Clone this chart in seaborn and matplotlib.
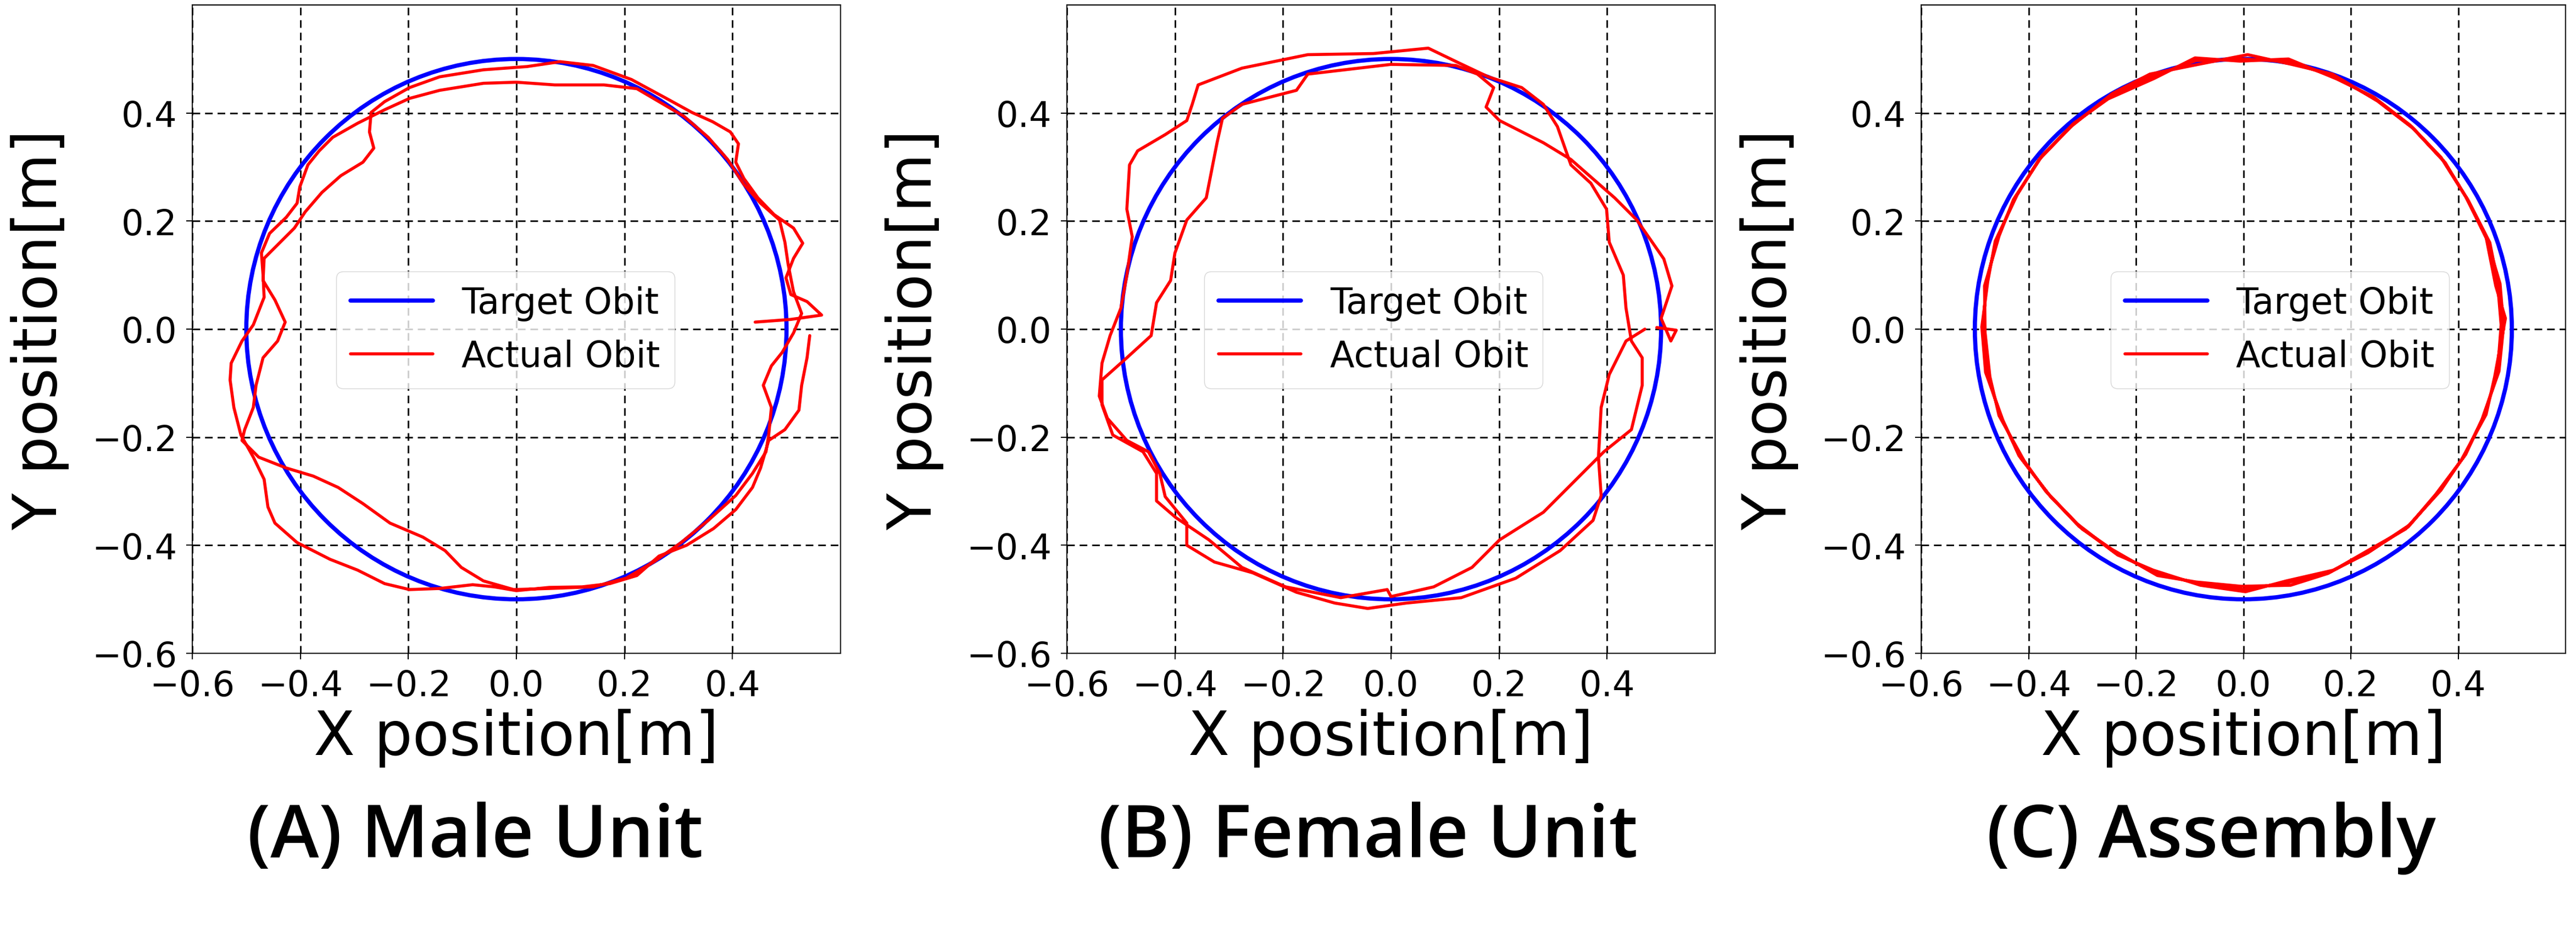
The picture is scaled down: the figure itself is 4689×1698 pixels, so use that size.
import matplotlib
matplotlib.use("Agg")
import matplotlib.pyplot as plt
from matplotlib.lines import Line2D
from matplotlib.patches import Circle
import seaborn as sns

# ---- data (metres) ----
target_radius = 0.5

male_x = [0.442, 0.508, 0.565, 0.538, 0.508, 0.499, 0.513, 0.530, 0.513, 0.477,
          0.447, 0.421, 0.406, 0.411, 0.396, 0.363, 0.325, 0.274, 0.213, 0.142,
          0.081, 0.020, -0.061, -0.142, -0.198, -0.244, -0.269, -0.272, -0.264, -0.284,
          -0.325, -0.360, -0.391, -0.411, -0.442, -0.467, -0.469, -0.447, -0.428, -0.442,
          -0.469, -0.482, -0.487, -0.503, -0.508, -0.477, -0.426, -0.376, -0.330, -0.284,
          -0.234, -0.173, -0.132, -0.102, -0.061, -0.005, 0.061, 0.142, 0.203, 0.254,
          0.305, 0.355, 0.406, 0.437, 0.462, 0.467, 0.472, 0.457, 0.472, 0.492,
          0.513,
          0.528, 0.513, 0.503, 0.497, 0.487, 0.452, 0.421, 0.391, 0.355, 0.310,
          0.264, 0.223, 0.162, 0.071, 0.000, -0.061, -0.142, -0.198, -0.244, -0.294,
          -0.340, -0.365, -0.386, -0.401, -0.406, -0.426, -0.457, -0.472, -0.469, -0.467,
          -0.487, -0.508, -0.528, -0.530, -0.523, -0.510, -0.487, -0.467, -0.460, -0.447,
          -0.406, -0.345, -0.294, -0.244, -0.198, -0.142, -0.081, -0.041, 0.000, 0.061,
          0.122, 0.173, 0.223, 0.264, 0.315, 0.365, 0.406, 0.437, 0.452, 0.467,
          0.497, 0.523, 0.528, 0.538, 0.543]
male_y = [0.013, 0.018, 0.026, 0.051, 0.064, 0.095, 0.131, 0.159, 0.187, 0.212,
          0.243, 0.279, 0.309, 0.343, 0.365, 0.384, 0.401, 0.429, 0.462, 0.488,
          0.495, 0.486, 0.480, 0.467, 0.447, 0.421, 0.401, 0.365, 0.335, 0.309,
          0.284, 0.253, 0.217, 0.187, 0.156, 0.131, 0.090, 0.054, 0.013, -0.022,
          -0.053, -0.104, -0.145, -0.186, -0.206, -0.237, -0.257, -0.272, -0.293, -0.323,
          -0.359, -0.385, -0.410, -0.441, -0.466, -0.482, -0.480, -0.477, -0.461, -0.431,
          -0.395, -0.354, -0.308, -0.267, -0.227, -0.196, -0.145, -0.104, -0.068, -0.043,
          -0.007,
          0.029, 0.069, 0.120, 0.161, 0.202, 0.233, 0.268, 0.314, 0.355, 0.394,
          0.421, 0.445, 0.452, 0.452, 0.457, 0.455, 0.442, 0.427, 0.406, 0.381,
          0.355, 0.330, 0.304, 0.263, 0.233, 0.207, 0.177, 0.141, 0.100, 0.059,
          0.008, -0.022, -0.063, -0.094, -0.145, -0.196, -0.237, -0.278, -0.329, -0.359,
          -0.395, -0.426, -0.446, -0.471, -0.482, -0.480, -0.473, -0.477, -0.484, -0.478,
          -0.477, -0.471, -0.456, -0.420, -0.400, -0.369, -0.334, -0.293, -0.257, -0.206,
          -0.186, -0.150, -0.104, -0.053, -0.012]

female_x = [0.492, 0.528, 0.518, 0.500, 0.520, 0.505, 0.455, 0.414, 0.333, 0.282,
            0.201, 0.176, 0.190, 0.160, 0.120, 0.000, -0.154, -0.175, -0.276, -0.312,
            -0.322, -0.342, -0.378, -0.400, -0.408, -0.434, -0.444, -0.489, -0.535, -0.535,
            -0.515, -0.459, -0.434, -0.434, -0.398, -0.337, -0.276, -0.195, -0.093, -0.007,
            0.000, 0.079, 0.150, 0.201, 0.282, 0.343, 0.394, 0.445, 0.465, 0.465,
            0.445, 0.435, 0.430, 0.404, 0.399, 0.370, 0.333, 0.308, 0.282, 0.242,
            0.180, 0.125, 0.069, -0.033, -0.154, -0.276, -0.357, -0.368, -0.378, -0.418,
            -0.469, -0.484, -0.489, -0.479, -0.489, -0.500, -0.520, -0.535, -0.540, -0.525,
            -0.489, -0.449, -0.428, -0.418, -0.378, -0.378, -0.327, -0.256, -0.175, -0.104,
            -0.043, 0.028, 0.130, 0.231, 0.313, 0.374, 0.389, 0.384, 0.389, 0.404,
            0.435, 0.470]
female_y = [0.003, -0.002, -0.022, 0.020, 0.080, 0.130, 0.202, 0.243, 0.314, 0.345,
            0.386, 0.411, 0.447, 0.472, 0.488, 0.490, 0.472, 0.442, 0.416, 0.390,
            0.345, 0.243, 0.202, 0.141, 0.090, 0.049, -0.012, -0.053, -0.094, -0.140,
            -0.196, -0.227, -0.267, -0.318, -0.349, -0.390, -0.441, -0.477, -0.497, -0.482,
            -0.495, -0.477, -0.441, -0.390, -0.339, -0.278, -0.227, -0.186, -0.104, -0.053,
            -0.022, 0.039, 0.100, 0.161, 0.222, 0.270, 0.304, 0.375, 0.416, 0.447,
            0.467, 0.493, 0.520, 0.510, 0.508, 0.483, 0.452, 0.416, 0.386, 0.360,
            0.330, 0.304, 0.222, 0.171, 0.100, 0.039, -0.012, -0.063, -0.124, -0.165,
            -0.206, -0.227, -0.267, -0.310, -0.359, -0.400, -0.431, -0.451, -0.487, -0.507,
            -0.517, -0.507, -0.497, -0.461, -0.410, -0.354, -0.308, -0.237, -0.145, -0.084,
            -0.022, 0.000]

assembly_x = [0.485, 0.478, 0.454, 0.417, 0.372, 0.314, 0.246, 0.170, 0.087, 0.000,
              -0.088, -0.170, -0.248, -0.318, -0.378, -0.424, -0.459, -0.479, -0.485, -0.477,
              -0.451, -0.414, -0.363, -0.306, -0.239, -0.164, -0.083, 0.000, 0.083, 0.163,
              0.237, 0.307, 0.362, 0.410, 0.447, 0.473,
              0.480, 0.473, 0.459, 0.420, 0.368, 0.318, 0.250, 0.166, 0.090, 0.008,
              -0.084, -0.174, -0.244, -0.322, -0.374, -0.428, -0.455, -0.482, -0.481, -0.472,
              -0.455, -0.408, -0.368, -0.300, -0.244, -0.160, -0.088, -0.004, 0.088, 0.158,
              0.242, 0.302, 0.368, 0.406, 0.452, 0.468,
              0.488, 0.470, 0.452, 0.414, 0.376, 0.310, 0.242, 0.174, 0.084, -0.006,
              -0.090, -0.166, -0.252, -0.314, -0.381, -0.421, -0.462, -0.476, -0.487, -0.480,
              -0.448, -0.418, -0.359, -0.310, -0.234, -0.168, -0.080, 0.004, 0.080, 0.168,
              0.232, 0.310, 0.358, 0.414, 0.444, 0.476, 0.484]
assembly_y = [0.000, 0.084, 0.165, 0.241, 0.312, 0.374, 0.426, 0.467, 0.495, 0.500,
              0.497, 0.468, 0.430, 0.379, 0.317, 0.245, 0.167, 0.084, 0.000, -0.084,
              -0.164, -0.239, -0.305, -0.365, -0.414, -0.451, -0.471, -0.482, -0.469, -0.449,
              -0.410, -0.366, -0.303, -0.237, -0.163, -0.083,
              0.008, 0.090, 0.160, 0.236, 0.318, 0.370, 0.422, 0.472, 0.490, 0.508,
              0.490, 0.472, 0.436, 0.374, 0.322, 0.240, 0.172, 0.080, -0.006, -0.088,
              -0.160, -0.244, -0.300, -0.370, -0.408, -0.456, -0.468, -0.476, -0.474, -0.452,
              -0.404, -0.370, -0.298, -0.242, -0.158, -0.088,
              0.020, 0.080, 0.170, 0.245, 0.308, 0.378, 0.430, 0.463, 0.500, 0.496,
              0.502, 0.464, 0.426, 0.382, 0.313, 0.249, 0.163, 0.088, 0.004, -0.080,
              -0.168, -0.234, -0.310, -0.360, -0.418, -0.446, -0.474, -0.486, -0.466, -0.446,
              -0.414, -0.362, -0.306, -0.232, -0.168, -0.078, 0.000]

captions = ["(A) Male Unit", "(B) Female Unit", "(C) Assembly"]
legend_labels = ["Target Obit", "Actual Obit"]
ticks = [-0.6, -0.4, -0.2, 0.0, 0.2, 0.4]

panels = [(male_x, male_y), (female_x, female_y), (assembly_x, assembly_y)]

# ---- layout in reference pixels ----
W, H = 4689, 1699
axes_px = [(350, 1180), (1942, 1180), (3497, 1173)]
legend_anchor = [0.222, 0.212, 0.294]
caption_x = [865, 2490, 4025]

sns.set_style("white")
plt.rcParams["font.family"] = ["DejaVu Sans"]
plt.rcParams.update({"text.color": "black", "axes.labelcolor": "black",
                     "xtick.color": "black", "ytick.color": "black"})

fig = plt.figure(figsize=(W / 100, H / 100), dpi=100)
fig.patch.set_facecolor("white")

for i, (xs, ys) in enumerate(panels):
    left, width = axes_px[i]
    ax = fig.add_axes([left / W, (H - 1190) / H, width / W, 1180 / H])

    ax.grid(True, color="black", linestyle=(0, (5, 3.2)), linewidth=2.0)
    ax.set_axisbelow(True)

    ax.add_patch(Circle((0, 0), target_radius, fill=False, edgecolor="blue",
                        linewidth=5.5, zorder=2))
    sns.lineplot(x=xs, y=ys, sort=False, estimator=None, color="red",
                 linewidth=4.0, ax=ax, legend=False, zorder=3)

    ax.set_xlim(-0.6, 0.6)
    ax.set_ylim(-0.6, 0.6)
    ax.set_xticks(ticks)
    ax.set_yticks(ticks)
    ax.tick_params(labelsize=46, length=8, width=1.5, pad=12, direction="out",
                   bottom=True, left=True)
    for sp in ax.spines.values():
        sp.set_color("black")
        sp.set_linewidth(1.5)

    ax.set_xlabel("X position[m]", fontsize=79)
    ax.set_ylabel("Y position[m]", fontsize=79)
    ax.xaxis.set_label_coords(0.5, -0.085)
    ax.yaxis.set_label_coords(-0.19, 0.5)

    handles = [Line2D([], [], color="blue", linewidth=5.5),
               Line2D([], [], color="red", linewidth=4.0)]
    ax.legend(handles, legend_labels, loc="upper left",
              bbox_to_anchor=(legend_anchor[i], 0.589), borderaxespad=0,
              fontsize=47, handlelength=2.3, handletextpad=0.8,
              framealpha=0.8, edgecolor="0.8")

    fig.text(caption_x[i] / W, (H - 1560) / H, captions[i], ha="center",
             va="baseline", fontsize=96, fontweight=600, color="black",
             family=["Open Sans", "DejaVu Sans"])

fig.savefig("out.png", dpi=100)
